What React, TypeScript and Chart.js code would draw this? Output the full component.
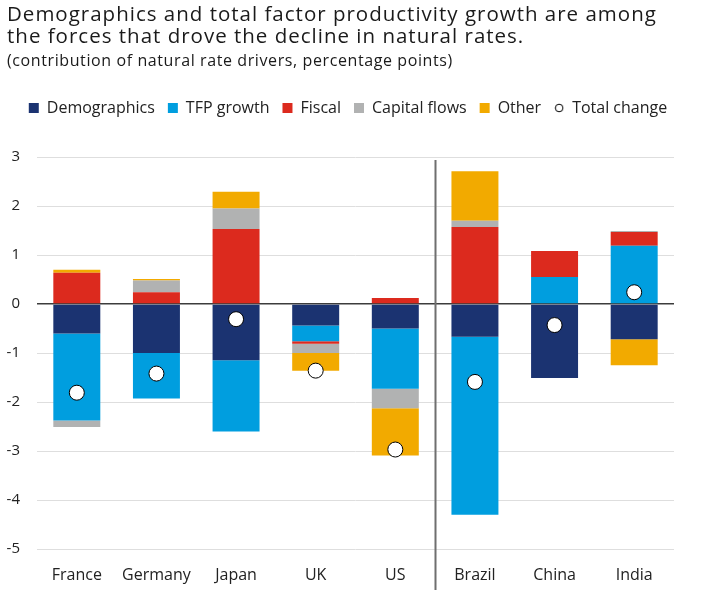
import React, { useEffect, useRef } from "react";
import { Chart, registerables } from "chart.js";
Chart.register(...registerables);

const FONT = "'Open Sans', Lato, sans-serif";

const categories = ["France", "Germany", "Japan", "UK", "US", "Brazil", "China", "India"];
const demographics = [-0.6, -1.0, -1.15, -0.44, -0.5, -0.67, -1.51, -0.72];
const tfpGrowth = [-1.78, -0.93, -1.45, -0.32, -1.23, -3.63, 0.55, 1.19];
const fiscal = [0.64, 0.24, 1.53, -0.05, 0.12, 1.57, 0.53, 0.28];
const capitalFlows = [-0.13, 0.24, 0.42, -0.19, -0.4, 0.13, 0, 0.02];
const other = [0.06, 0.03, 0.34, -0.36, -0.96, 1.01, 0, -0.53];
const totalChange = [-1.81, -1.42, -0.31, -1.36, -2.97, -1.59, -0.43, 0.24];
const yTicks = [3, 2, 1, 0, -1, -2, -3, -4, -5];

const COLORS = {
  demo: "#1b3371",
  tfp: "#009edf",
  fiscal: "#dc2a1e",
  cap: "#b1b2b2",
  other: "#f2aa00",
};

const LEGEND_DX = 11;

export default function App() {
  const ref = useRef<HTMLCanvasElement>(null);

  useEffect(() => {
    document.body.style.margin = "0";
    const circle = document.createElement("canvas");
    circle.width = 10;
    circle.height = 10;
    const cctx = circle.getContext("2d")!;
    cctx.beginPath();
    cctx.arc(5, 5, 3.8, 0, Math.PI * 2);
    cctx.fillStyle = "#fff";
    cctx.fill();
    cctx.lineWidth = 1;
    cctx.strokeStyle = "#000";
    cctx.stroke();

    const divider = {
      id: "divider",
      afterDraw(chart: any) {
        const xs = chart.scales.x;
        const x = Math.round((xs.getPixelForValue(4) + xs.getPixelForValue(5)) / 2) + 0.5;
        const c = chart.ctx;
        c.save();
        c.strokeStyle = "#6f6f6f";
        c.lineWidth = 2;
        c.beginPath();
        c.moveTo(x, chart.chartArea.top + 3);
        c.lineTo(x, 590);
        c.stroke();
        c.restore();
      },
    };

    const legendGap = {
      id: "legendGap",
      beforeInit(chart: any) {
        const lg = chart.legend;
        const fit = lg.fit;
        lg.fit = function () {
          fit.call(lg);
          this.height += 31;
        };
        const draw = lg.draw;
        lg.draw = function () {
          const c = chart.ctx;
          c.save();
          c.translate(LEGEND_DX, 0);
          draw.call(lg);
          c.restore();
        };
      },
    };

    const barDs = (label: string, data: number[], color: string) => ({
      type: "bar" as const,
      label,
      data,
      backgroundColor: color,
      borderWidth: 0,
      order: 1,
    });

    const chart = new Chart(ref.current!, {
      type: "bar",
      data: {
        labels: categories,
        datasets: [
          barDs("Demographics", demographics, COLORS.demo),
          barDs("TFP growth", tfpGrowth, COLORS.tfp),
          barDs("Fiscal", fiscal, COLORS.fiscal),
          barDs("Capital flows", capitalFlows, COLORS.cap),
          barDs("Other", other, COLORS.other),
          {
            type: "line" as const,
            label: "Total change",
            data: totalChange,
            showLine: false,
            stack: "total",
            order: 0,
            pointRadius: 7.5,
            pointHoverRadius: 7.5,
            pointBackgroundColor: "#fff",
            pointBorderColor: "#000",
            pointBorderWidth: 1,
            backgroundColor: "#fff",
            borderColor: "#000",
          } as any,
        ],
      },
      options: {
        responsive: false,
        animation: false,
        layout: { padding: { top: 87, left: 0, right: 34, bottom: 0 } },
        datasets: { bar: { categoryPercentage: 1, barPercentage: 0.59 } },
        plugins: {
          tooltip: { enabled: false },
          title: { display: false },
          legend: {
            display: true,
            position: "top",
            labels: {
              usePointStyle: true,
              boxWidth: 10,
              boxHeight: 10,
              padding: 13,
              color: "#222",
              font: { family: FONT, size: 16 },
              generateLabels: (ch: any) =>
                ch.data.datasets.map((ds: any, i: number) => ({
                  text: ds.label,
                  fillStyle: i === 5 ? "#fff" : ds.backgroundColor,
                  strokeStyle: i === 5 ? "#000" : ds.backgroundColor,
                  lineWidth: 0,
                  pointStyle: i === 5 ? circle : "rect",
                  datasetIndex: i,
                  hidden: false,
                  fontColor: "#222",
                })),
            },
          },
        },
        scales: {
          x: {
            stacked: true,
            grid: { display: false, drawTicks: false },
            border: { display: false },
            ticks: { color: "#222", font: { family: FONT, size: 16 }, padding: 17 },
            afterFit: (s: any) => {
              s.height = 53;
            },
          },
          y: {
            stacked: true,
            min: -5,
            max: 3,
            afterBuildTicks: (s: any) => {
              s.ticks = yTicks.map((v) => ({ value: v }));
            },
            afterFit: (s: any) => {
              s.width = 37;
            },
            border: { display: false },
            grid: {
              drawTicks: false,
              color: (c: any) => (c.tick && c.tick.value === 0 ? "#3c3c3c" : "#dedede"),
              lineWidth: (c: any) => (c.tick && c.tick.value === 0 ? 1.5 : 1),
            },
            ticks: {
              color: "#222",
              font: { family: FONT, size: 15 },
              padding: 17,
              callback: (v: any) => String(v),
            },
          },
        },
      },
      plugins: [divider, legendGap],
    });
    return () => chart.destroy();
  }, []);

  return (
    <div style={{ position: "relative", width: 708, height: 602, background: "#fff", fontFamily: FONT, color: "#1a1a1a" }}>
      <canvas ref={ref} width={708} height={602} style={{ position: "absolute", left: 0, top: 0, width: 708, height: 602 }} />
      <div style={{ position: "absolute", left: 7, top: 2, fontSize: 20.5, letterSpacing: "1px", lineHeight: "22px", whiteSpace: "nowrap" }}>
        Demographics and total factor productivity growth are among
        <br />
        the forces that drove the decline in natural rates.
      </div>
      <div style={{ position: "absolute", left: 7, top: 50, fontSize: 16, letterSpacing: "0.6px", lineHeight: "20px", whiteSpace: "nowrap" }}>
        (contribution of natural rate drivers, percentage points)
      </div>
    </div>
  );
}
